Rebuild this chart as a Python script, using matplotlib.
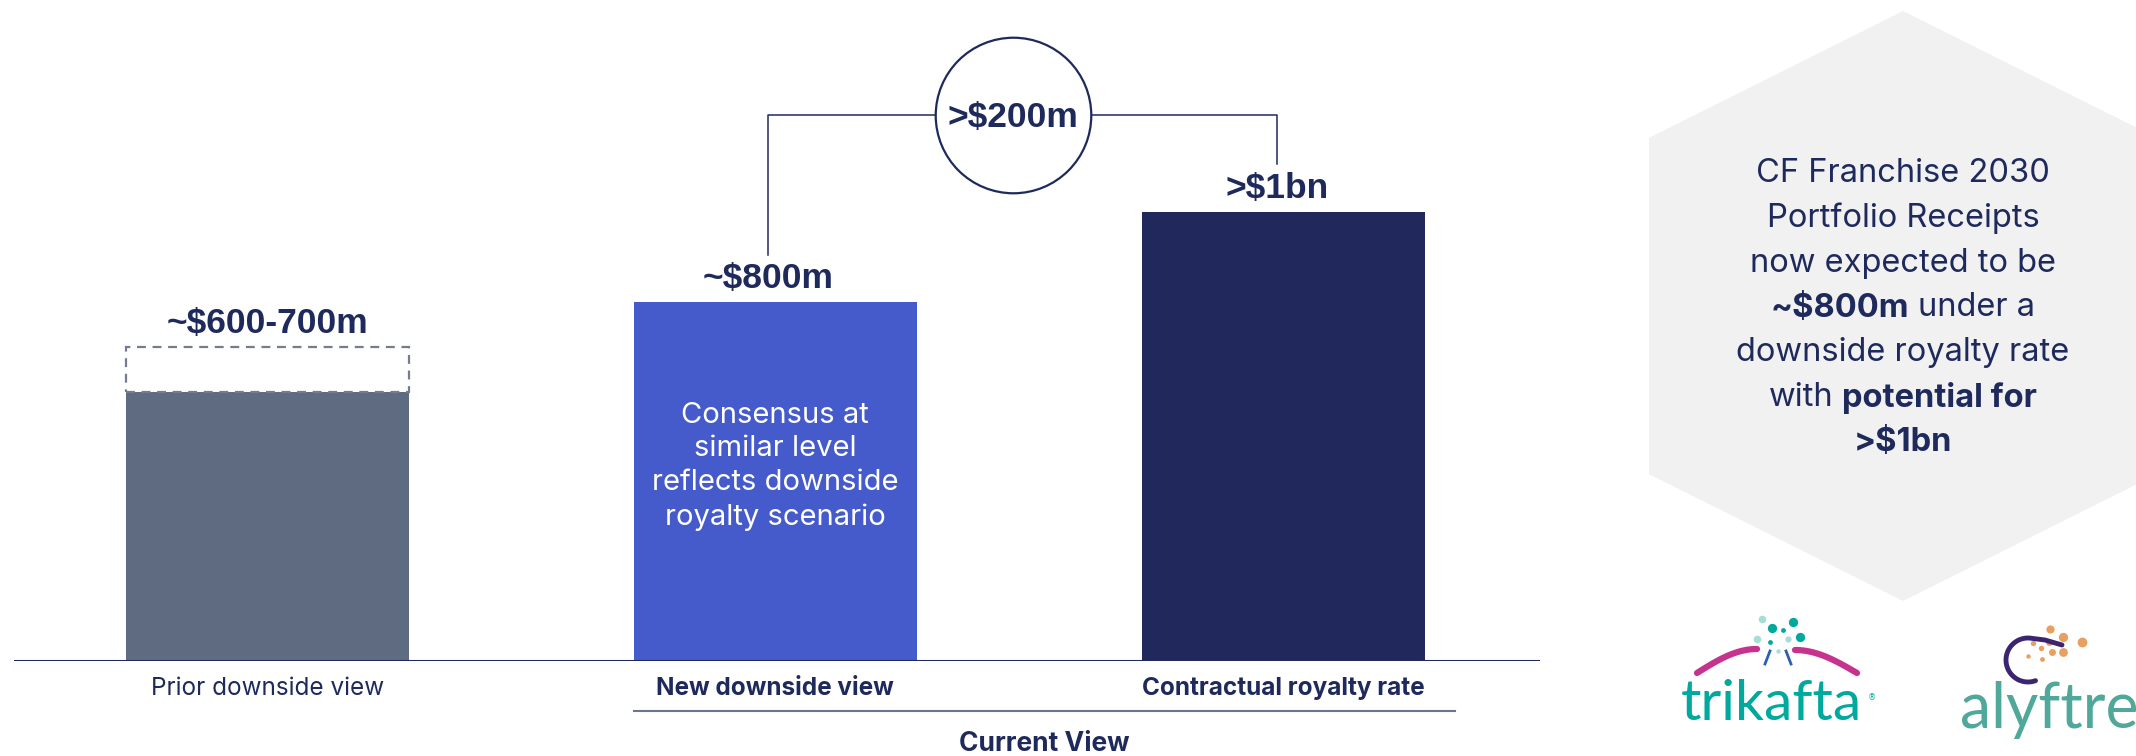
import matplotlib.pyplot as plt
from matplotlib.patches import Polygon
import numpy as np

# chart data ($m)
categories = ['Prior downside view', 'New downside view', 'Contractual royalty rate']
values = [600, 800, 1000]
range_top = 700          # upper end of the prior downside range
value_labels = ['~$600-700m', '~$800m', '>$1bn']
gap_label = '>$200m'
bar_note = 'Consensus at\nsimilar level\nreflects downside\nroyalty scenario'
group_label = 'Current View'

bar_colors = ['#5f6b80', '#455bcb', '#20285c']
bold_cat = [False, True, True]
NAVY = '#1f2a5c'

W, H = 2136, 756
fig = plt.figure(figsize=(W / 100, H / 100), dpi=100)

# pixel overlay used for the side panel and logos
px = fig.add_axes([0, 0, 1, 1])
px.set_xlim(0, W)
px.set_ylim(H, 0)
px.axis('off')

base = 661          # baseline position in pixels from the top
scale = 0.449       # px per $m
ax = fig.add_axes([14 / W, (H - base) / H, (1540 - 14) / W, base / H])
ax.set_xlim(-0.498, 2.505)
ax.set_ylim(0, base / scale)
ax.axis('off')
ax.patch.set_alpha(0)

x = np.arange(len(categories))
bw = 0.557
ax.bar(x, values, width=bw, color=bar_colors, zorder=2)
# dashed range box on top of the prior view
ax.bar(x[0], range_top - values[0], bottom=values[0], width=bw, fill=False,
       edgecolor='#747c8e', linestyle=(0, (4, 3)), lw=1.6, zorder=2)
ax.axhline(0, color=NAVY, lw=2.2, zorder=3)

tops = [range_top, values[1], values[2]]
shift = [0, -0.014, -0.013]     # labels sit a touch left of the bar centre
for i in range(len(categories)):
    ax.annotate(value_labels[i], (x[i] + shift[i], tops[i]), xytext=(0, 10),
                textcoords='offset points', ha='center', va='baseline', fontsize=25.5,
                fontweight='bold', family='Liberation Sans', color=NAVY)
    ax.annotate(categories[i], (x[i], 0), xytext=(0, -24.5), textcoords='offset points',
                ha='center', va='baseline', fontsize=17.5, family='Inter',
                fontweight='bold' if bold_cat[i] else 'normal', color=NAVY,
                annotation_clip=False)

ax.text(x[1], 434, bar_note, ha='center', va='center', color='white', fontsize=21,
        linespacing=1.32, family='Inter')

# bracket between the two current-view bars
bracket_y = 1215
xl, xr = x[1] + shift[1], x[2] + shift[2]
ax.plot([xl, xl, xr, xr], [values[1] + 105, bracket_y, bracket_y, values[2] + 108],
        color=NAVY, lw=1.1, zorder=1)
xm = (xl + xr) / 2 - 0.018
ax.scatter([xm], [bracket_y], s=112 ** 2, facecolor='white', edgecolor=NAVY, lw=1.6,
           zorder=4, clip_on=False)
ax.text(xm, bracket_y - 4, gap_label, ha='center', va='center', fontsize=25.5,
        fontweight='bold', family='Liberation Sans', color=NAVY, zorder=5)

# group underline + label
ul_left, ul_right = x[1] - bw / 2, x[2] + bw / 2 + 0.06
ax.plot([ul_left, ul_right], [-111, -111], color='#6b7490', lw=1.5, clip_on=False)
ax.text((ul_left + ul_right) / 2, -201, group_label, ha='center', va='baseline',
        fontsize=19, fontweight='bold', family='Inter', color=NAVY)

# hexagon side panel
hx, hy, hw, hh = 1903, 306, 254, 295
hexagon = Polygon([(hx, hy - hh), (hx + hw, hy - 0.57 * hh), (hx + hw, hy + 0.57 * hh),
                   (hx, hy + hh), (hx - hw, hy + 0.57 * hh), (hx - hw, hy - 0.57 * hh)],
                  closed=True, facecolor='#f1f1f2', edgecolor='none')
px.add_patch(hexagon)

hex_lines = [
    [('CF Franchise 2030', 'normal')],
    [('Portfolio Receipts', 'normal')],
    [('now expected to be', 'normal')],
    [('~$800m', 'bold'), ('under a', 'normal')],
    [('downside royalty rate', 'normal')],
    [('with', 'normal'), ('potential for', 'bold')],
    [('>$1bn', 'bold')],
]
renderer = fig.canvas.get_renderer()
hfs = 23.5
space = 0.27 * hfs * 100 / 72
for k, line in enumerate(hex_lines):
    yy = hy + 2 + (k - 3) * 44.8
    texts = [px.text(0, yy, s, fontsize=hfs, fontweight=wt, family='Inter', color=NAVY,
                     ha='left', va='center') for s, wt in line]
    widths = [t.get_window_extent(renderer).width for t in texts]
    total = sum(widths) + space * (len(texts) - 1)
    cur = hx - total / 2
    for t, w in zip(texts, widths):
        t.set_x(cur)
        cur += w + space

# logos
px.text(1681, 720, 'trikafta', color='#00a99d', fontsize=41, family='Lato', va='baseline')
px.text(1868, 700, '®', color='#00a99d', fontsize=6, family='DejaVu Sans', va='baseline')
tt = np.linspace(0, 1, 30)
px.plot(1697 + 60 * tt, 673 - 24 * np.sin(tt * np.pi / 2), color='#c6338e', lw=4.5,
        solid_capstyle='round')
px.plot(1795 + 62 * tt, 650 + 23 * (1 - np.cos(tt * np.pi / 2)), color='#c6338e', lw=4.5,
        solid_capstyle='round')
px.plot([1770, 1765], [651, 664], color='#2d5fb0', lw=2)
px.plot([1786, 1791], [651, 664], color='#2d5fb0', lw=2)
dots = [(1762, 619, 30, '#a8dcd6'), (1772, 628, 45, '#00a99d'), (1793, 622, 45, '#00a99d'),
        (1783, 630, 12, '#00a99d'), (1800, 637, 45, '#00a99d'), (1757, 639, 30, '#a8dcd6'),
        (1770, 642, 12, '#00a99d'), (1788, 639, 20, '#a8dcd6'), (1778, 651, 10, '#a8dcd6')]
for dx, dy, ds, dc in dots:
    px.scatter(dx, dy, s=ds, color=dc, lw=0)

px.text(1960, 728, 'alyftrek', color='#4fa899', fontsize=45, family='Lato', va='baseline')
th = np.radians(np.linspace(290, 80, 40))
sx = np.r_[2028 + 22 * np.cos(th), 2045, 2062]
sy = np.r_[660 - 22 * np.sin(th), 640, 645]
px.plot(sx, sy, color='#3b2470', lw=3.5, solid_capstyle='round')
odots = [(2050, 629, 35), (2063, 637, 45), (2082, 642, 50), (2049, 642, 25), (2033, 643, 15),
         (2041, 648, 15), (2052, 652, 25), (2063, 652, 40), (2042, 659, 12), (2028, 656, 10)]
for dx, dy, ds in odots:
    px.scatter(dx, dy, s=ds, color='#e8a062', lw=0)

fig.savefig('out.png', dpi=100)
